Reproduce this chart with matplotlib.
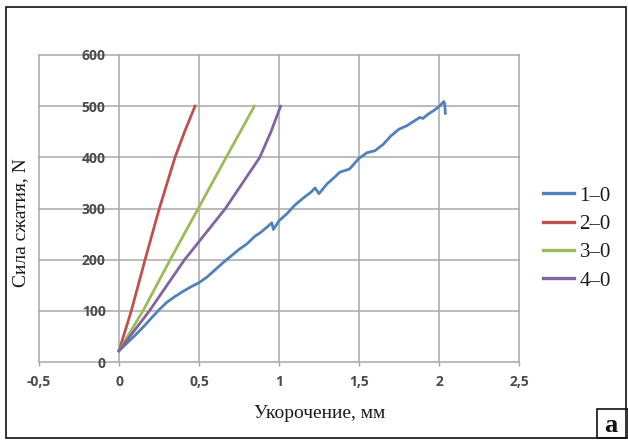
import matplotlib
matplotlib.use("Agg")
import matplotlib.pyplot as plt
from matplotlib.patches import Rectangle

# ---- data ----
labels = ["1–0", "2–0", "3–0", "4–0"]
colors = ["#4F81BD", "#C0504D", "#9BBB59", "#8064A2"]

x1 = [0, 0.05, 0.1, 0.15, 0.2, 0.25, 0.3, 0.35, 0.4, 0.45, 0.5, 0.55, 0.6, 0.65,
      0.7, 0.75, 0.8, 0.85, 0.88, 0.9, 0.93, 0.955, 0.965, 0.98, 1.0, 1.05, 1.1,
      1.15, 1.2, 1.225, 1.25, 1.3, 1.35, 1.38, 1.44, 1.5, 1.55, 1.6, 1.65, 1.7,
      1.75, 1.8, 1.86, 1.88, 1.9, 1.93, 1.97, 2.0, 2.03, 2.035, 2.04]
y1 = [22, 37, 52, 68, 85, 102, 117, 128, 138, 147, 155, 166, 180, 194,
      207, 220, 231, 246, 252, 257, 265, 272, 259, 266, 276, 290, 307,
      320, 332, 340, 329, 348, 362, 371, 377, 398, 409, 413, 425, 442,
      455, 462, 474, 478, 476, 484, 492, 499, 509, 505, 486]

x2 = [0, 0.077, 0.163, 0.252, 0.35, 0.41, 0.475]
y2 = [22, 100, 200, 300, 400, 450, 500]

x3 = [0, 0.15, 0.32, 0.495, 0.67, 0.846]
y3 = [22, 100, 200, 300, 400, 500]

x4 = [0, 0.19, 0.41, 0.665, 0.88, 0.95, 1.01]
y4 = [22, 100, 200, 300, 400, 450, 500]

xticks = [-0.5, 0, 0.5, 1, 1.5, 2, 2.5]
xtick_labels = ["-0,5", "0", "0,5", "1", "1,5", "2", "2,5"]
yticks = [0, 100, 200, 300, 400, 500, 600]

W, H = 628, 441
fig = plt.figure(figsize=(W / 100, H / 100), dpi=100)

ax = fig.add_axes([39 / W, 1 - 362 / H, (519 - 39) / W, (362 - 55) / H])
for xs, ys, c, lab in zip([x1, x2, x3, x4], [y1, y2, y3, y4], colors, labels):
    ax.plot(xs, ys, color=c, lw=2.0, label=lab, solid_joinstyle="round")

ax.set_xlim(-0.5, 2.5)
ax.set_ylim(0, 600)
ax.set_xticks(xticks)
ax.set_xticklabels(xtick_labels)
ax.set_yticks(yticks)
grid_c = "#a8a8a8"
ax.grid(True, color=grid_c, lw=1.1)
ax.set_axisbelow(True)
for s in ax.spines.values():
    s.set_visible(False)
for gl in ax.get_xgridlines() + ax.get_ygridlines():
    gl.set_clip_on(False)

tick_font = dict(family="Open Sans", weight="bold", size=10, color="#4a4a4a")
ax.tick_params(axis="x", length=3, width=1.0, color=grid_c, pad=6)
ax.tick_params(axis="y", length=0, pad=-48)
for t in ax.get_xticklabels() + ax.get_yticklabels():
    t.set_fontfamily(tick_font["family"])
    t.set_fontweight(tick_font["weight"])
    t.set_fontsize(tick_font["size"])
    t.set_color(tick_font["color"])

serif = "Liberation Serif"
fig.text(320 / W, 1 - 414 / H, "Укорочение, мм", family=serif, size=14,
         ha="center", va="center", color="#1a1a1a")
fig.text(21 / W, 1 - 223 / H, "Сила сжатия, N", family=serif, size=14,
         ha="center", va="center", rotation=90, color="#1a1a1a")

leg = ax.legend(loc="upper left", bbox_to_anchor=(543 / W, 1 - 186 / H),
                bbox_transform=fig.transFigure, frameon=False,
                prop=dict(family=serif, size=15), handlelength=1.5,
                handletextpad=0.25, labelspacing=0.42, borderaxespad=0,
                borderpad=0)
for h in leg.get_lines():
    h.set_linewidth(2.4)
for t in leg.get_texts():
    t.set_color("#1a1a1a")

# outer frame and panel letter box
fig.add_artist(Rectangle((6 / W, 1 - 438 / H), (626 - 6) / W, (438 - 7) / H,
                         transform=fig.transFigure, fill=False,
                         edgecolor="#111111", lw=1.2))
fig.add_artist(Rectangle((597 / W, 1 - 438 / H), (628 - 597) / W, (438 - 409) / H,
                         transform=fig.transFigure, fill=False,
                         edgecolor="#111111", lw=1.2))
fig.text(611 / W, 1 - 425 / H, "a", family=serif, weight="bold", size=19,
         ha="center", va="center", color="#111111")

fig.savefig("out.png", dpi=100)
